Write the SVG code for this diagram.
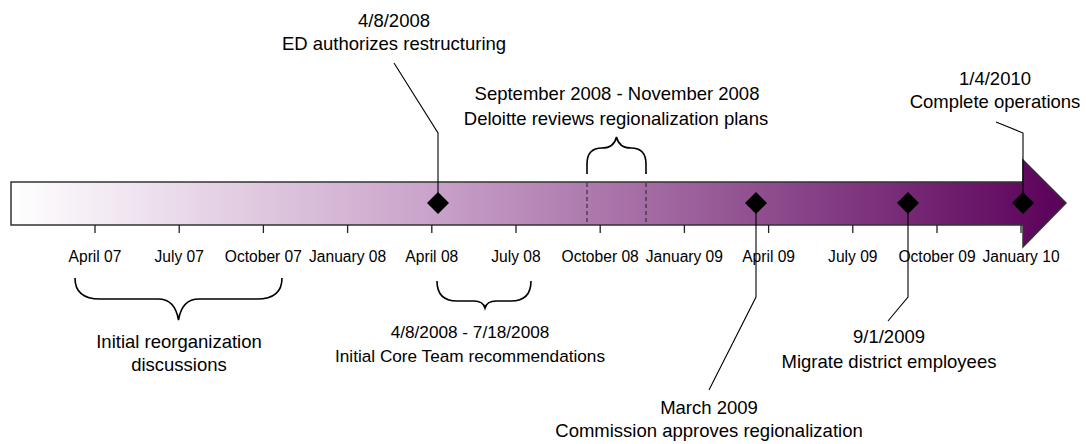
<svg xmlns="http://www.w3.org/2000/svg" width="1086" height="444" viewBox="0 0 1086 444">
  <defs>
    <linearGradient id="bandFill" gradientUnits="userSpaceOnUse" x1="11" y1="0" x2="1066" y2="0">
      <stop offset="0" stop-color="#ffffff"/>
      <stop offset="0.4" stop-color="#c9a2c9"/>
      <stop offset="1" stop-color="#5a0059"/>
    </linearGradient>
    <style>
      text { font-family: "Liberation Sans", Arial, sans-serif; fill: #000; text-anchor: middle; }
      .lbl { font-size: 18.5px; }
      .lbl-sm { font-size: 17.2px; }
      .tick-lbl { font-size: 15.6px; }
      .tick { stroke: #222; stroke-width: 1.3; }
      .leader { fill: none; stroke: #000; stroke-width: 1.1; }
      .brace { fill: none; stroke: #000; stroke-width: 1.6; }
      .dash { stroke: #333; stroke-width: 1.2; stroke-dasharray: 4 3; }
      .marker { fill: #000; }
    </style>
  </defs>

  <rect width="1086" height="444" fill="#ffffff"/>

  <!-- timeline band with arrowhead -->
  <g id="timeline">
    <path d="M11,182 H1023 V160 L1066,203 L1023,247 V225 H11 Z" fill="url(#bandFill)" stroke="#333" stroke-width="1.5" stroke-linejoin="miter"/>
    <line class="dash" x1="587" y1="183" x2="587" y2="224"/>
    <line class="dash" x1="646" y1="183" x2="646" y2="224"/>
  </g>

  <!-- quarter ticks and labels -->
  <g id="axis">
    <line class="tick" x1="95" y1="225" x2="95" y2="233"/>
    <line class="tick" x1="179.2" y1="225" x2="179.2" y2="233"/>
    <line class="tick" x1="263.4" y1="225" x2="263.4" y2="233"/>
    <line class="tick" x1="347.6" y1="225" x2="347.6" y2="233"/>
    <line class="tick" x1="431.8" y1="225" x2="431.8" y2="233"/>
    <line class="tick" x1="516" y1="225" x2="516" y2="233"/>
    <line class="tick" x1="600.2" y1="225" x2="600.2" y2="233"/>
    <line class="tick" x1="684.4" y1="225" x2="684.4" y2="233"/>
    <line class="tick" x1="768.6" y1="225" x2="768.6" y2="233"/>
    <line class="tick" x1="852.8" y1="225" x2="852.8" y2="233"/>
    <line class="tick" x1="937" y1="225" x2="937" y2="233"/>
    <line class="tick" x1="1021" y1="225" x2="1021" y2="233"/>
    <text class="tick-lbl" x="95" y="262">April 07</text>
    <text class="tick-lbl" x="179.2" y="262">July 07</text>
    <text class="tick-lbl" x="263.4" y="262">October 07</text>
    <text class="tick-lbl" x="347.6" y="262">January 08</text>
    <text class="tick-lbl" x="431.8" y="262">April 08</text>
    <text class="tick-lbl" x="516" y="262">July 08</text>
    <text class="tick-lbl" x="600.2" y="262">October 08</text>
    <text class="tick-lbl" x="684.4" y="262">January 09</text>
    <text class="tick-lbl" x="768.6" y="262">April 09</text>
    <text class="tick-lbl" x="852.8" y="262">July 09</text>
    <text class="tick-lbl" x="937" y="262">October 09</text>
    <text class="tick-lbl" x="1021" y="262">January 10</text>
  </g>

  <!-- connectors: leader lines and braces -->
  <g id="connectors">
    <path class="leader" d="M438,203 V133 L394,63"/>
    <path class="leader" d="M756,203 V297 L709,390"/>
    <path class="leader" d="M908,203 V297 L888,321"/>
    <path class="leader" d="M1023,203 V133 L996,122"/>
    <path class="brace" d="M587,174 V164 Q587,148 602,148 Q614,148 616.5,137 Q619,148 631,148 Q646,148 646,164 V174"/>
    <path class="brace" d="M75,278 Q75,299 100,299 H158 Q175,299 178.5,320 Q182,299 199,299 H257 Q282,299 282,278"/>
    <path class="brace" d="M437,281 Q437,301 457,301 H474 Q483,301 485,308 Q487,301 496,301 H511 Q531,301 531,281"/>
  </g>

  <!-- milestones -->
  <g id="ms-authorize">
    <path class="marker" d="M438,192 L449,203 L438,214 L427,203 Z"/>
    <text class="lbl" x="394" y="27">4/8/2008</text>
    <text class="lbl" x="394" y="50">ED authorizes restructuring</text>
  </g>
  <g id="ms-deloitte">
    <text class="lbl" x="617" y="100">September 2008 - November 2008</text>
    <text class="lbl" x="616" y="125">Deloitte reviews regionalization plans</text>
  </g>
  <g id="ms-complete">
    <path class="marker" d="M1023,192 L1034,203 L1023,214 L1012,203 Z"/>
    <text class="lbl" x="995" y="85">1/4/2010</text>
    <text class="lbl" x="995" y="108">Complete operations</text>
  </g>
  <g id="ms-initial">
    <text class="lbl" x="179" y="348">Initial reorganization</text>
    <text class="lbl" x="179" y="371">discussions</text>
  </g>
  <g id="ms-coreteam">
    <text class="lbl-sm" x="470" y="338">4/8/2008 - 7/18/2008</text>
    <text class="lbl-sm" x="470" y="362">Initial Core Team recommendations</text>
  </g>
  <g id="ms-commission">
    <path class="marker" d="M756,192 L767,203 L756,214 L745,203 Z"/>
    <text class="lbl" x="709" y="414">March 2009</text>
    <text class="lbl" x="709" y="437">Commission approves regionalization</text>
  </g>
  <g id="ms-migrate">
    <path class="marker" d="M908,192 L919,203 L908,214 L897,203 Z"/>
    <text class="lbl" x="889" y="343">9/1/2009</text>
    <text class="lbl" x="889" y="368">Migrate district employees</text>
  </g>
</svg>
